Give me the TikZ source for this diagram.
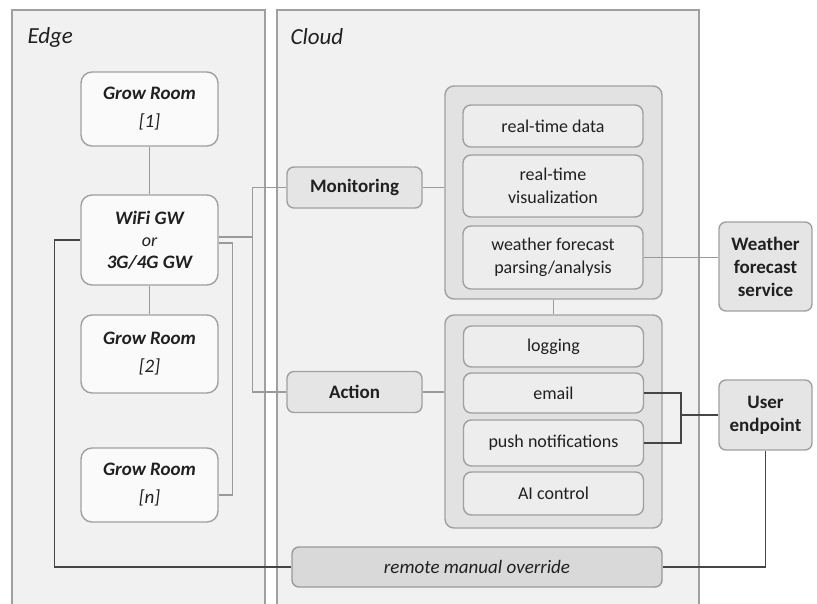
\documentclass[tikz,border=0pt]{standalone}
\usepackage{fontspec}
\setmainfont{Carlito}
\definecolor{panelgray}{HTML}{F1F1F1}
\definecolor{bordergray}{HTML}{A0A0A0}
\definecolor{roomwhite}{HTML}{FAFAFA}
\definecolor{boxgray}{HTML}{E5E5E5}
\definecolor{groupgray}{HTML}{E2E2E2}
\definecolor{innergray}{HTML}{EDEDED}
\definecolor{overridegray}{HTML}{D9D9D9}
\definecolor{linegray}{HTML}{9A9A9A}
\definecolor{linedark}{HTML}{454545}
\definecolor{textdark}{HTML}{202020}
\begin{document}
\begin{tikzpicture}[x=1pt, y=-1pt,
    panel/.style={draw=bordergray, line width=1.2pt, fill=panelgray},
    room/.style={draw=bordergray, line width=1.4pt, fill=roomwhite, rounded corners=11pt,
        minimum width=137pt, align=center, text=textdark, font=\fontsize{19}{28}\selectfont\itshape},
    label/.style={draw=bordergray, line width=1.4pt, fill=boxgray, rounded corners=7pt,
        align=center, text=textdark, font=\fontsize{19}{23}\selectfont\bfseries},
    group/.style={draw=bordergray, line width=1.4pt, fill=groupgray, rounded corners=9pt,
        minimum width=217pt, minimum height=213pt},
    item/.style={draw=bordergray, line width=1.4pt, fill=innergray, rounded corners=8pt,
        minimum width=180pt, align=center, text=textdark, font=\fontsize{18}{22.5}\selectfont},
    thinline/.style={draw=linegray, line width=1.3pt},
    darkline/.style={draw=linedark, line width=1.6pt}]
    \useasboundingbox (0,0) rectangle (817,603);
    % Panels
    \draw[panel] (12,10) rectangle (265,615);
    \draw[panel] (277,10) rectangle (699,615);
    \node[anchor=west, font=\fontsize{23}{23}\selectfont\itshape, text=textdark] (edgetitle) at (24,37) {Edge};
    \node[anchor=west, font=\fontsize{23}{23}\selectfont\itshape, text=textdark] (cloudtitle) at (287,37) {Cloud};
    % Edge
    \node[room, minimum height=74pt] (room1) at (149.5,109) {\textbf{Grow Room}\\{[1]}};
    \node[room, minimum height=90pt, font=\fontsize{19}{22}\selectfont\itshape] (gw) at (149.5,240)
        {\textbf{WiFi GW}\\{\fontsize{18}{22}\selectfont or}\\\textbf{3G/4G GW}};
    \node[room, minimum height=78pt] (room2) at (149.5,354) {\textbf{Grow Room}\\{[2]}};
    \node[room, minimum height=74pt] (roomn) at (149.5,485) {\textbf{Grow Room}\\{[n]}};
    % Cloud
    \node[label, minimum width=135pt, minimum height=41pt] (monitoring) at (354.5,187.5) {Monitoring};
    \node[label, minimum width=135pt, minimum height=41pt] (action) at (354.5,392) {Action};
    \node[group] (mongroup) at (553.5,192.5) {};
    \node[item, minimum height=42pt] (rtdata) at (553,126) {real-time data};
    \node[item, minimum height=62pt] (rtvis) at (553,186) {real-time\\visualization};
    \node[item, minimum height=63pt] (weatherparse) at (553,257.5) {weather forecast\\parsing/analysis};
    \node[group] (actgroup) at (553.5,421.5) {};
    \node[item, minimum height=41pt] (logging) at (553.5,346.5) {logging};
    \node[item, minimum height=40pt] (email) at (553.5,393) {email};
    \node[item, minimum height=46pt] (push) at (553.5,443) {push notifications};
    \node[item, minimum height=43pt] (aictrl) at (553.5,493.5) {AI control};
    \node[label, fill=overridegray, draw=linegray, minimum width=370pt, minimum height=40pt,
        font=\fontsize{19}{23}\selectfont\itshape] (override) at (477,567) {remote manual override};
    % Outside
    \node[label, minimum width=93pt, minimum height=89pt] (weather) at (765.5,266.5) {Weather\\forecast\\service};
    \node[label, minimum width=93pt, minimum height=70pt] (user) at (765.5,415) {User\\endpoint};
    % Connectors
    \draw[thinline] (room1) -- (gw);
    \draw[thinline] (gw) -- (room2);
    \draw[thinline] ([yshift=3pt]gw.east) -- ++(34pt,0) coordinate (gwsplit);
    \draw[thinline] (gwsplit) |- (monitoring.west);
    \draw[thinline] (gwsplit) |- (action.west);
    \draw[thinline] ([yshift=-3pt]gw.east) -| ([xshift=14pt,yshift=-10pt]roomn.east) -- ([yshift=-10pt]roomn.east);
    \draw[thinline] (monitoring.east) -- (mongroup.west |- monitoring.east);
    \draw[thinline] (action.east) -- (actgroup.west |- action.east);
    \draw[thinline] (mongroup.south) -- (actgroup.north);
    \draw[thinline] (weatherparse.east) -- (weather.west |- weatherparse.east);
    \draw[darkline] (email.east) -- ++(37pt,0) coordinate (notifyjoin) |- (push.east);
    \draw[darkline] (user.west) -- (notifyjoin |- user.west);
    \draw[darkline] (user.south) |- (override.east);
    \draw[darkline] (override.west) -- ++(-237pt,0) |- (gw.west);
\end{tikzpicture}
\end{document}
